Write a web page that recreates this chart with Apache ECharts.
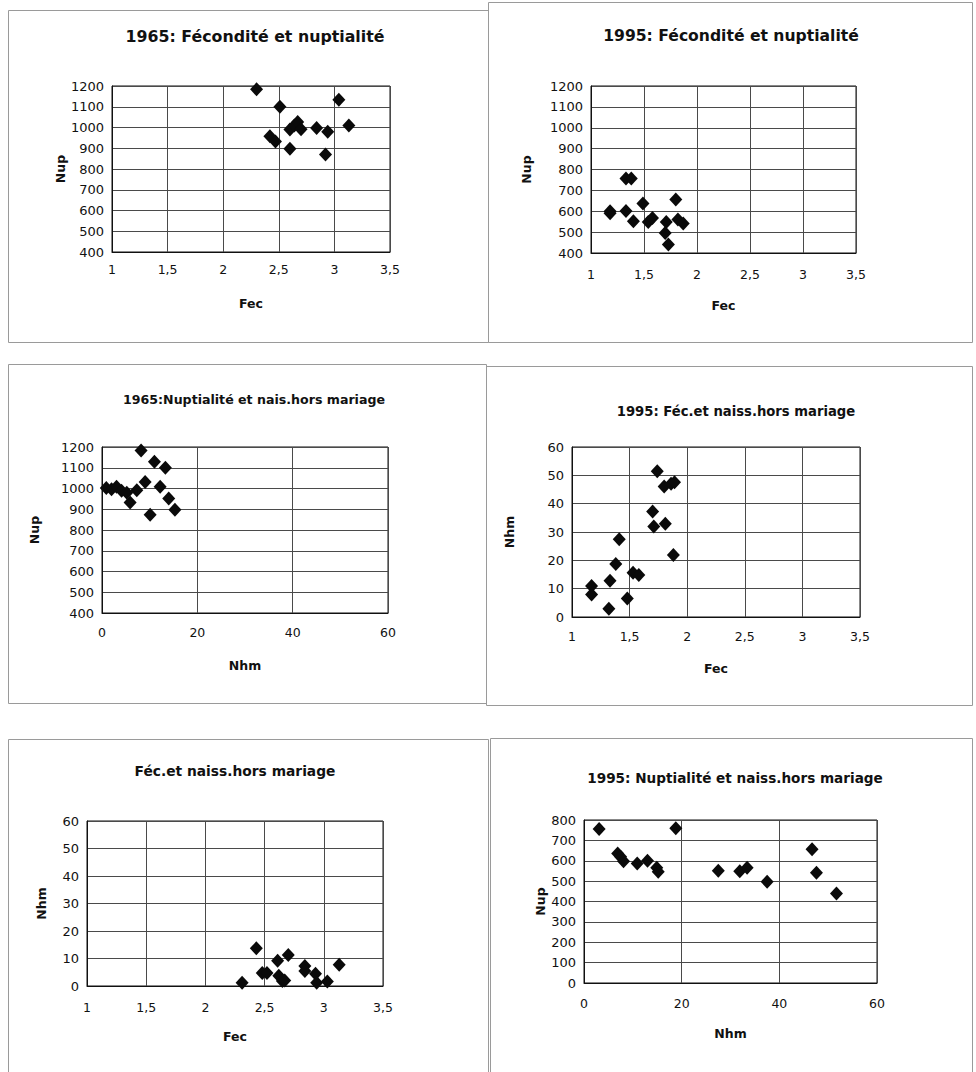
<!DOCTYPE html>
<html>
<head>
<meta charset="utf-8">
<script src="https://cdn.jsdelivr.net/npm/echarts@6/dist/echarts.min.js"></script>
<style>
html,body{margin:0;padding:0;background:#fff;}
#c{width:976px;height:1072px;}
</style>
</head>
<body>
<div id="c"></div>
<script>
// Panel titles
const titles = [
  "1965: Fécondité et nuptialité",
  "1995: Fécondité et nuptialité",
  "1965:Nuptialité et nais.hors mariage",
  "1995: Féc.et naiss.hors mariage",
  "Féc.et naiss.hors mariage",
  "1995: Nuptialité et naiss.hors mariage"
];
const xNames = ["Fec", "Fec", "Nhm", "Fec", "Fec", "Nhm"];
const yNames = ["Nup", "Nup", "Nup", "Nhm", "Nhm", "Nup"];

// Tick ranges
const fecTicks = [1, 3.5, 0.5];
const nhmTicks = [0, 60, 20];
const nupTicks65 = [400, 1200, 100];
const nhmTicksY = [0, 60, 10];
const nupTicks95 = [0, 800, 100];

// 1) 1965 Fec vs Nup
const fec65_a = [2.30, 2.51, 3.04, 3.13, 2.42, 2.47, 2.60, 2.60, 2.64, 2.67, 2.70, 2.84, 2.94, 2.92];
const nup65_a = [1184, 1100, 1134, 1010, 958, 932, 897, 990, 1010, 1027, 992, 997, 980, 870];
// 2) 1995 Fec vs Nup
const fec95_a = [1.18, 1.18, 1.33, 1.38, 1.33, 1.49, 1.40, 1.54, 1.58, 1.80, 1.71, 1.70, 1.73, 1.82, 1.87];
const nup95_a = [600, 590, 757, 757, 601, 637, 552, 549, 568, 656, 549, 496, 441, 560, 541];
// 3) 1965 Nhm vs Nup
const nhm65_b = [0.9, 2.0, 3.05, 4.1, 5.2, 5.9, 7.3, 8.2, 9.05, 10.1, 11.0, 12.2, 13.3, 14.0, 15.3];
const nup65_b = [1003, 996, 1008, 989, 979, 933, 992, 1183, 1031, 873, 1129, 1008, 1100, 952, 897];
// 4) 1995 Fec vs Nhm
const fec95_b = [1.74, 1.80, 1.86, 1.89, 1.70, 1.71, 1.81, 1.88, 1.41, 1.38, 1.33, 1.17, 1.17, 1.32, 1.48, 1.53, 1.58];
const nhm95_b = [51.4, 46.1, 47.0, 47.6, 37.2, 31.9, 32.9, 21.9, 27.4, 18.7, 12.8, 10.9, 7.9, 2.9, 6.5, 15.6, 14.8];
// 5) 1965 Fec vs Nhm
const fec65_c = [2.31, 2.43, 2.48, 2.52, 2.61, 2.70, 2.62, 2.65, 2.67, 2.84, 2.84, 2.93, 2.94, 3.03, 3.13];
const nhm65_c = [1.2, 13.7, 4.7, 4.7, 9.2, 11.3, 3.7, 1.8, 2.0, 7.3, 5.5, 4.5, 1.2, 1.6, 7.7];
// 6) 1995 Nhm vs Nup
const nhm95_c = [3.1, 6.9, 7.5, 8.1, 10.9, 13.0, 14.9, 15.2, 18.8, 27.5, 31.9, 33.4, 37.5, 46.7, 47.6, 51.7];
const nup95_c = [756, 636, 620, 597, 587, 600, 566, 546, 759, 551, 549, 566, 497, 656, 541, 439];

const panels = [
  {x: fec65_a, y: nup65_a, xt: fecTicks, yt: nupTicks65, tf: 15.8,
   grid: {left: 112, top: 86, width: 278, height: 166}, title: [250, 23], xGap: 45, yGap: 44, xm: 11, box: [8, 10, 480, 332]},
  {x: fec95_a, y: nup95_a, xt: fecTicks, yt: nupTicks65, tf: 15.6,
   grid: {left: 591, top: 86, width: 265, height: 167}, title: [726, 23], xGap: 46, yGap: 58, xm: 15, box: [488, 2, 484, 340]},
  {x: nhm65_b, y: nup65_b, xt: nhmTicks, yt: nupTicks65, tf: 12.6,
   grid: {left: 102, top: 447, width: 286, height: 166}, title: [249, 388], xGap: 46, yGap: 61, xm: 13, box: [8, 364, 478, 339]},
  {x: fec95_b, y: nhm95_b, xt: fecTicks, yt: nhmTicksY, tf: 13.2,
   grid: {left: 572, top: 447, width: 288, height: 170}, title: [731, 400], xGap: 45, yGap: 56, xm: 13, box: [486, 366, 486, 339]},
  {x: fec65_c, y: nhm65_c, xt: fecTicks, yt: nhmTicksY, tf: 13.8,
   grid: {left: 87, top: 821, width: 296, height: 165}, title: [230, 759], xGap: 44, yGap: 39, xm: 15, box: [8, 739, 480, 340]},
  {x: nhm95_c, y: nup95_c, xt: nhmTicks, yt: nupTicks95, tf: 13.6,
   grid: {left: 584, top: 820, width: 293, height: 163}, title: [730, 766], xGap: 44, yGap: 37, xm: 14, box: [490, 738, 482, 340]}
];

const FONT = "DejaVu Sans";
const fmtX = v => String(v).replace('.', ',');
const fmtY = v => String(v);

const option = {
  backgroundColor: '#fff',
  animation: false,
  title: panels.map((p, i) => ({
    text: titles[i], left: p.title[0], top: p.title[1], textAlign: 'center',
    textStyle: {fontFamily: FONT, fontWeight: 'bold', fontSize: p.tf, color: '#111'}
  })),
  grid: panels.map(p => Object.assign({show: true, borderColor: '#111', borderWidth: 1, backgroundColor: '#fff'}, p.grid)),
  xAxis: panels.map((p, i) => ({
    type: 'value', gridIndex: i, min: p.xt[0], max: p.xt[1], interval: p.xt[2],
    name: xNames[i], nameLocation: 'middle', nameGap: p.xGap,
    nameTextStyle: {fontFamily: FONT, fontWeight: 'bold', fontSize: 12.5, color: '#111'},
    axisLine: {show: true, onZero: false, lineStyle: {color: '#111', width: 1}},
    axisTick: {show: false},
    axisLabel: {fontFamily: FONT, fontSize: 12.5, color: '#111', margin: p.xm, formatter: fmtX},
    splitLine: {show: true, lineStyle: {color: '#4a4a4a', width: 1}}
  })),
  yAxis: panels.map((p, i) => ({
    type: 'value', gridIndex: i, min: p.yt[0], max: p.yt[1], interval: p.yt[2],
    name: yNames[i], nameLocation: 'middle', nameGap: p.yGap,
    nameTextStyle: {fontFamily: FONT, fontWeight: 'bold', fontSize: 12.5, color: '#111'},
    axisLine: {show: true, lineStyle: {color: '#111', width: 1}},
    axisTick: {show: false},
    axisLabel: {fontFamily: FONT, fontSize: 13, color: '#111', margin: 8, formatter: fmtY},
    splitLine: {show: true, lineStyle: {color: '#4a4a4a', width: 1}}
  })),
  series: panels.map((p, i) => ({
    type: 'scatter', xAxisIndex: i, yAxisIndex: i,
    symbol: 'diamond', symbolSize: [13, 14],
    itemStyle: {color: '#0a0a0a', opacity: 1},
    data: p.x.map((v, k) => [v, p.y[k]])
  })),
  graphic: panels.map(p => ({
    type: 'rect', silent: true, z: -10,
    shape: {x: p.box[0] + 0.5, y: p.box[1] + 0.5, width: p.box[2], height: p.box[3]},
    style: {fill: 'none', stroke: '#9a9a9a', lineWidth: 1}
  }))
};

const chart = echarts.init(document.getElementById('c'), null, {renderer: 'svg', width: 976, height: 1072});
chart.setOption(option);
</script>
</body>
</html>
